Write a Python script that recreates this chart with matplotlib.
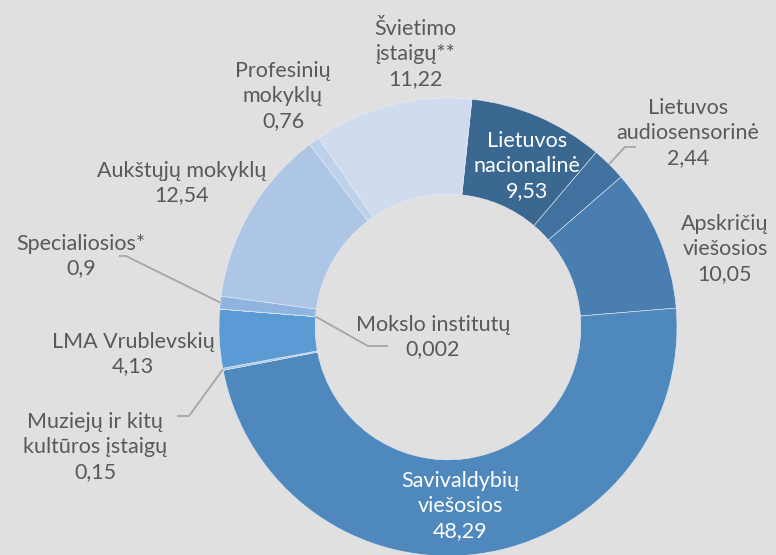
import numpy as np
import matplotlib
matplotlib.use("Agg")
import matplotlib.pyplot as plt

plt.rcParams['font.family'] = ['Lato', 'DejaVu Sans']

# duomenys (pagal laikrodžio rodyklę nuo viršaus)
labels = ["Lietuvos\nnacionalinė", "Lietuvos\naudiosensorinė", "Apskričių\nviešosios",
          "Savivaldybių\nviešosios", "Muziejų ir kitų\nkultūros įstaigų", "LMA Vrublevskių",
          "Mokslo institutų", "Specialiosios*", "Aukštųjų mokyklų", "Profesinių\nmokyklų",
          "Švietimo\nįstaigų**"]
values = [9.53, 2.44, 10.05, 48.29, 0.15, 4.13, 0.002, 0.9, 12.54, 0.76, 11.22]
value_text = ["9,53", "2,44", "10,05", "48,29", "0,15", "4,13", "0,002", "0,9", "12,54", "0,76", "11,22"]
colors = ["#3b6891", "#41719f", "#4a7db0", "#4f88bc", "#a9c4e4", "#5b9bd5", "#7aa8db",
          "#8fb4e0", "#adc6e5", "#bdd1eb", "#d0dcee"]

W, H = 776, 555
fig = plt.figure(figsize=(W / 100, H / 100), dpi=100)
bg = "#e0e0e0"
fig.patch.set_facecolor(bg)
ax = fig.add_axes([0, 0, 1, 1])
ax.set_facecolor(bg)

cx, cy, R = 448, H - 327, 229
wedges, _ = ax.pie(values, colors=colors, startangle=84, counterclock=False,
                   center=(cx, cy), radius=R, frame=True,
                   wedgeprops=dict(width=R * 0.42, edgecolor="#e6ecf5", linewidth=0.4))
ax.set_xlim(0, W)
ax.set_ylim(0, H)
ax.axis("off")

txt = "#595959"
# label block centers in pixels, colour
label_pos = [(527, 166, "white"), (688, 133, txt), (725, 249, txt), (460, 506, "white"),
             (95, 447, txt), (133, 354, txt), (433, 337, txt), (81, 256, txt),
             (182, 183, txt), (283, 96, txt), (415, 54, txt)]
for lab, val, (x, y, c) in zip(labels, value_text, label_pos):
    ax.text(x, H - y, lab + "\n" + val, ha="center", va="center", color=c,
            fontsize=15.5, linespacing=1.3)

# leader lines: (wedge index, text end, elbow, inner edge?)
leaders = [(1, (636, 147), (625, 147), False),
           (7, (119, 256), (126, 256), False),
           (4, (177, 416), (189, 416), False),
           (6, (388, 346), (368, 346), True)]
for i, p0, p1, inner in leaders:
    w = wedges[i]
    ang = np.deg2rad((w.theta1 + w.theta2) / 2)
    r = R * 0.58 if inner else R
    ex, ey = cx + r * np.cos(ang), cy + r * np.sin(ang)
    ax.plot([p0[0], p1[0], ex], [H - p0[1], H - p1[1], ey], color="#a6a6a6", lw=1.3,
            solid_capstyle="butt")

fig.savefig("out.png", dpi=100, facecolor=bg)
